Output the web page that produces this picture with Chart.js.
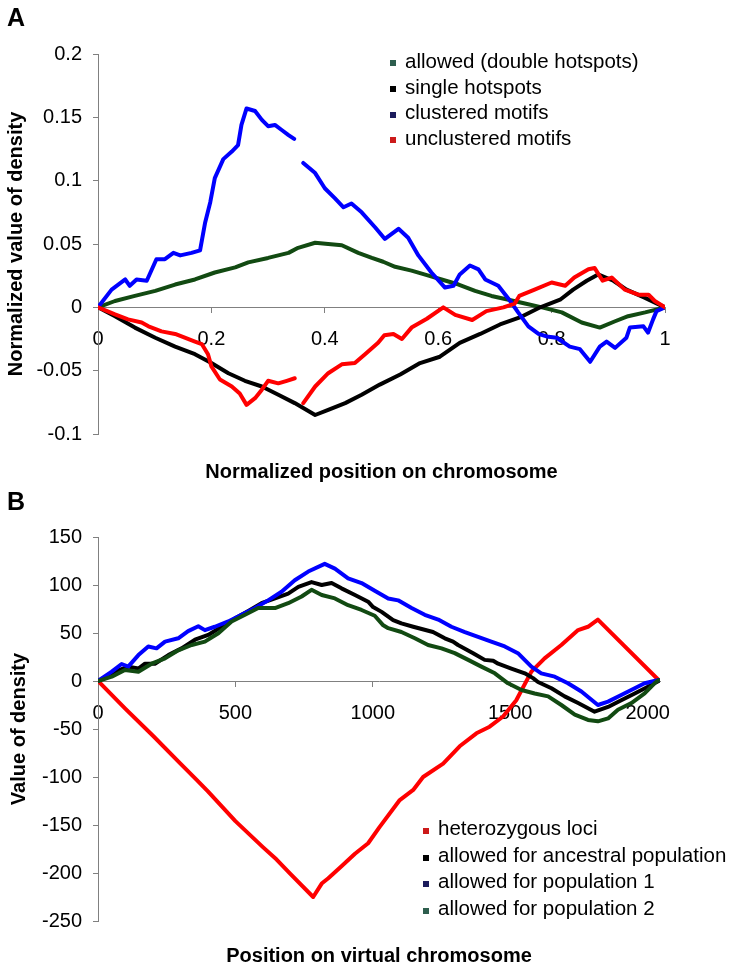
<!DOCTYPE html>
<html>
<head>
<meta charset="UTF-8">
<title>Density along chromosome</title>
<style type="text/css">
	body{ margin: 0; background: #fff; }
	#page{ position: relative; width: 731px; height: 970px; font-family: "Liberation Sans", Arial, sans-serif; color: #000; }
	canvas{ position: absolute; left: 0; }
	#chartA{ top: 0; }
	#chartB{ top: 485px; }
	.panel{ position: absolute; left: 7px; font-weight: bold; font-size: 25px; line-height: 25px; }
	.legend{ position: absolute; font-size: 20.5px; white-space: nowrap; }
	.legend div{ position: relative; padding-left: 15px; }
	.legend span{ position: absolute; left: 0; width: 6px; height: 6px; }
</style>
</head>
<body>
<div id="page">
	<canvas id="chartA" width="731" height="485"></canvas>
	<canvas id="chartB" width="731" height="485"></canvas>
	<div class="panel" style="top:5px">A</div>
	<div class="panel" style="top:489px">B</div>
	<div class="legend" id="legendA" style="left:390px; top:48px"></div>
	<div class="legend" id="legendB" style="left:423px; top:815px"></div>
</div>
<script src="https://cdn.jsdelivr.net/npm/chart.js@4"></script>
<script>
// ---- panel A : normalized position (0..1) ----
var aXTicks = [0, 0.2, 0.4, 0.6, 0.8, 1];
var aYTicks = [-0.1, -0.05, 0, 0.05, 0.1, 0.15, 0.2];

var aAllowedX = [0, 0.030, 0.065, 0.101, 0.136, 0.171, 0.206, 0.242, 0.265, 0.300, 0.336, 0.353, 0.383, 0.406, 0.430, 0.459, 0.483, 0.503, 0.524, 0.553, 0.583, 0.606, 0.636, 0.665, 0.694, 0.724, 0.753, 0.783, 0.818, 0.853, 0.885, 0.912, 0.935, 0.965, 1];
var aAllowedY = [0, 0.005, 0.009, 0.013, 0.018, 0.022, 0.0275, 0.0315, 0.0355, 0.039, 0.043, 0.047, 0.051, 0.050, 0.049, 0.043, 0.039, 0.036, 0.032, 0.029, 0.025, 0.022, 0.018, 0.013, 0.009, 0.006, 0.003, 0, -0.004, -0.012, -0.016, -0.011, -0.007, -0.004, 0];

var aSingleX = [0, 0.030, 0.065, 0.101, 0.136, 0.171, 0.200, 0.230, 0.259, 0.289, 0.318, 0.347, 0.383, 0.406, 0.436, 0.465, 0.497, 0.533, 0.568, 0.603, 0.638, 0.674, 0.709, 0.744, 0.780, 0.815, 0.838, 0.862, 0.882, 0.909, 0.932, 0.962, 1];
var aSingleY = [0, -0.007, -0.016, -0.024, -0.031, -0.037, -0.044, -0.052, -0.058, -0.0625, -0.069, -0.0756, -0.085, -0.081, -0.0756, -0.069, -0.061, -0.053, -0.044, -0.039, -0.028, -0.021, -0.0135, -0.008, 0, 0.006, 0.014, 0.021, 0.026, 0.021, 0.014, 0.008, 0];

var aClusteredX = [0, 0.024, 0.048, 0.056, 0.068, 0.086, 0.103, 0.118, 0.133, 0.145, 0.165, 0.180, 0.189, 0.198, 0.206, 0.221, 0.236, 0.247, 0.253, 0.262, 0.277, 0.289, 0.300, 0.312, 0.324, 0.336, 0.346, 0.354, 0.362, 0.383, 0.400, 0.418, 0.433, 0.447, 0.465, 0.489, 0.506, 0.530, 0.547, 0.565, 0.588, 0.612, 0.627, 0.638, 0.656, 0.671, 0.683, 0.706, 0.727, 0.741, 0.759, 0.777, 0.791, 0.809, 0.832, 0.850, 0.868, 0.885, 0.897, 0.912, 0.932, 0.938, 0.962, 0.970, 0.979, 0.985, 1];
var aClusteredY = [0, 0.014, 0.022, 0.017, 0.022, 0.021, 0.038, 0.038, 0.043, 0.041, 0.043, 0.045, 0.067, 0.083, 0.102, 0.117, 0.123, 0.128, 0.144, 0.157, 0.155, 0.148, 0.143, 0.144, 0.140, 0.136, 0.133, null, 0.114, 0.106, 0.094, 0.086, 0.079, 0.082, 0.075, 0.063, 0.054, 0.062, 0.055, 0.041, 0.0275, 0.0156, 0.017, 0.026, 0.033, 0.030, 0.022, 0.017, 0.005, -0.004, -0.015, -0.021, -0.023, -0.024, -0.031, -0.033, -0.043, -0.031, -0.027, -0.032, -0.024, -0.016, -0.015, -0.020, -0.0095, -0.003, 0];

var aUnclusteredX = [0, 0.030, 0.053, 0.077, 0.089, 0.112, 0.136, 0.153, 0.171, 0.183, 0.194, 0.200, 0.215, 0.236, 0.250, 0.262, 0.277, 0.289, 0.300, 0.318, 0.333, 0.347, 0.354, 0.362, 0.383, 0.406, 0.430, 0.453, 0.471, 0.494, 0.505, 0.521, 0.536, 0.553, 0.580, 0.609, 0.630, 0.660, 0.685, 0.715, 0.735, 0.743, 0.770, 0.800, 0.824, 0.840, 0.865, 0.876, 0.890, 0.906, 0.929, 0.953, 0.971, 0.982, 1];
var aUnclusteredY = [0, -0.0056, -0.0095, -0.012, -0.015, -0.019, -0.021, -0.024, -0.027, -0.029, -0.037, -0.0466, -0.057, -0.0625, -0.068, -0.077, -0.0717, -0.065, -0.058, -0.060, -0.058, -0.056, null, -0.0756, -0.0625, -0.052, -0.045, -0.044, -0.037, -0.028, -0.022, -0.021, -0.025, -0.016, -0.009, 0, -0.006, -0.010, -0.003, 0, 0.003, 0.009, 0.014, 0.0196, 0.017, 0.0235, 0.030, 0.031, 0.021, 0.0235, 0.014, 0.010, 0.010, 0.005, 0];

// ---- panel B : position on virtual chromosome ----
var bXTicks = [0, 500, 1000, 1500, 2000];
var bYTicks = [-250, -200, -150, -100, -50, 0, 50, 100, 150];

var bHeteroX = [0, 100, 200, 300, 359, 400, 500, 600, 650, 700, 783, 814, 838, 886, 935, 983, 1025, 1098, 1147, 1183, 1256, 1316, 1377, 1425, 1474, 1522, 1577, 1625, 1686, 1747, 1783, 1819, 2040];
var bHeteroY = [0, -29, -57, -86, -103, -115, -146, -173, -186, -201, -225, -211, -205.5, -193, -180, -169, -152, -124, -113.5, -100, -86, -68, -54.5, -47.6, -37, -20, 9.7, 23.6, 37.5, 53, 56.5, 64, 1];

var bAncestralX = [0, 62, 110, 147, 171, 207, 256, 304, 353, 401, 450, 498, 547, 595, 644, 692, 729, 777, 814, 850, 886, 935, 983, 1001, 1032, 1074, 1104, 1147, 1219, 1262, 1292, 1310, 1365, 1407, 1438, 1456, 1504, 1553, 1583, 1601, 1650, 1698, 1747, 1807, 1856, 1904, 1953, 2001, 2040];
var bAncestralY = [0, 9.7, 15, 13, 18, 18, 27, 34, 43, 48, 56.5, 65, 73, 81, 86, 91, 98, 103, 100, 102, 96.5, 89.6, 82.6, 77, 72, 63.5, 60, 56.5, 51, 44.5, 41, 37.5, 29, 22, 21, 18, 13, 8, 3, -1, -7.6, -16, -23, -32, -27, -20, -13, -6, 0];

var bPop1X = [0, 50, 86, 110, 147, 183, 213, 244, 292, 328, 365, 389, 425, 474, 522, 571, 619, 668, 716, 765, 825, 862, 910, 959, 1007, 1056, 1092, 1141, 1189, 1238, 1286, 1335, 1383, 1431, 1480, 1528, 1577, 1613, 1662, 1710, 1759, 1819, 1856, 1904, 1953, 1989, 2040];
var bPop1Y = [0, 9.7, 17.7, 15, 27, 36, 34, 41, 44.5, 52, 57, 53, 56.5, 62, 69, 76, 84, 93, 105, 114, 122, 117, 107, 102, 94, 86, 84, 76, 69, 64, 56.5, 51, 46, 41, 36, 29, 15, 8, 4.5, -2.4, -11, -25, -21.5, -14.6, -7.6, -2.4, 1];

var bPop2X = [0, 50, 98, 147, 195, 244, 292, 341, 389, 438, 486, 535, 583, 644, 692, 741, 777, 814, 862, 910, 959, 1007, 1038, 1056, 1104, 1153, 1201, 1250, 1298, 1347, 1395, 1444, 1492, 1541, 1589, 1638, 1686, 1735, 1783, 1819, 1856, 1892, 1941, 1989, 2025, 2040];
var bPop2Y = [0, 4.5, 11.5, 9.7, 18, 23.6, 32, 37.5, 41, 49.7, 62, 69, 76, 76, 81, 88, 95, 89.6, 86, 79, 74, 68, 58, 55, 51, 44.5, 37.5, 34, 29, 22, 15, 8, -2.4, -9.4, -13, -16, -25, -35, -40.6, -42, -39, -30, -23, -13, -2.4, 1];

var aLabels = ['allowed (double hotspots)', 'single hotspots', 'clustered motifs', 'unclustered motifs'];
var bLabels = ['heterozygous loci', 'allowed for ancestral population', 'allowed for population 1', 'allowed for population 2'];

var FONT = '"Liberation Sans", Arial, sans-serif';
var AXIS = '#808080';
Chart.defaults.font.family = FONT;
Chart.defaults.color = '#000';

function pts(xs, ys){
	return xs.map(function(x, i){ return {x: x, y: ys[i]}; });
}
function series(label, xs, ys, color, order){
	return {
		label: label, data: pts(xs, ys), borderColor: color, backgroundColor: color,
		borderWidth: 4, pointRadius: 0, tension: 0, fill: false, spanGaps: false,
		borderJoinStyle: 'round', borderCapStyle: 'round', order: order
	};
}
function trim(v){ return String(Math.round(v * 100) / 100); }
function fixTicks(list){
	return function(s){ s.ticks = list.map(function(v){ return {value: v}; }); };
}

function makeChart(id, datasets, o){
	return new Chart(document.getElementById(id), {
		type: 'line',
		data: { datasets: datasets },
		options: {
			responsive: false, animation: false, devicePixelRatio: 1,
			layout: { padding: o.pad },
			plugins: {
				legend: { display: false },
				tooltip: { enabled: false },
				title: {
					display: true, position: 'bottom', fullSize: false, text: o.xTitle,
					font: { size: 20, weight: 'bold' }, padding: { top: o.xTitlePad, bottom: 0 }
				}
			},
			scales: {
				x: {
					type: 'linear', min: o.xMin, max: o.xMax, position: { y: 0 },
					afterFit: function(s){ s.height = 0; },
					afterBuildTicks: fixTicks(o.xTicks),
					ticks: { padding: 15, maxRotation: 0, autoSkip: false, font: { size: 20 }, callback: trim },
					grid: { drawOnChartArea: false, tickLength: 5, color: AXIS },
					border: { color: AXIS }
				},
				y: {
					type: 'linear', min: o.yMin, max: o.yMax,
					afterFit: function(s){ s.width = 98; },
					afterBuildTicks: fixTicks(o.yTicks),
					ticks: { padding: 11, autoSkip: false, font: { size: 20 }, callback: trim },
					grid: { drawOnChartArea: false, tickLength: 5, color: AXIS },
					border: { color: AXIS },
					title: { display: true, text: o.yTitle, font: { size: 20, weight: 'bold' }, padding: { top: o.yTitlePad, bottom: 0 } }
				}
			}
		}
	});
}

var colA = ['#124a12', '#000000', '#0000ff', '#ff0000'];
var keyA = ['#2e5e4e', '#000000', '#1c1c5c', '#cc1a1a'];
makeChart('chartA', [
	series(aLabels[0], aAllowedX, aAllowedY, colA[0], 3),
	series(aLabels[1], aSingleX, aSingleY, colA[1], 2),
	series(aLabels[2], aClusteredX, aClusteredY, colA[2], 1),
	series(aLabels[3], aUnclusteredX, aUnclusteredY, colA[3], 0)
], {
	pad: { top: 54, left: 0, right: 66, bottom: 1 },
	xMin: 0, xMax: 1, xTicks: aXTicks, yMin: -0.1, yMax: 0.2, yTicks: aYTicks,
	xTitle: 'Normalized position on chromosome', xTitlePad: 26,
	yTitle: 'Normalized value of density', yTitlePad: 4
});

var colB = ['#ff0000', '#000000', '#0000ff', '#124a12'];
var keyB = ['#cc1a1a', '#000000', '#1c1c5c', '#2e5e4e'];
makeChart('chartB', [
	series(bLabels[0], bHeteroX, bHeteroY, colB[0], 3),
	series(bLabels[1], bAncestralX, bAncestralY, colB[1], 2),
	series(bLabels[2], bPop1X, bPop1Y, colB[2], 1),
	series(bLabels[3], bPop2X, bPop2Y, colB[3], 0)
], {
	pad: { top: 52, left: 0, right: 71, bottom: 2 },
	xMin: 0, xMax: 2045, xTicks: bXTicks, yMin: -250, yMax: 150, yTicks: bYTicks,
	xTitle: 'Position on virtual chromosome', xTitlePad: 23,
	yTitle: 'Value of density', yTitlePad: 7
});

// legends (small square keys like the original)
function legend(id, labels, colors, rowH){
	var box = document.getElementById(id);
	labels.forEach(function(t, i){
		var row = document.createElement('div');
		row.style.height = rowH + 'px';
		row.style.lineHeight = rowH + 'px';
		var sw = document.createElement('span');
		sw.style.background = colors[i];
		sw.style.top = (rowH / 2 - 0.5) + 'px';
		row.appendChild(sw);
		row.appendChild(document.createTextNode(t));
		box.appendChild(row);
	});
}
legend('legendA', aLabels, keyA, 25.7);
legend('legendB', bLabels, keyB, 26.7);
</script>
</body>
</html>
